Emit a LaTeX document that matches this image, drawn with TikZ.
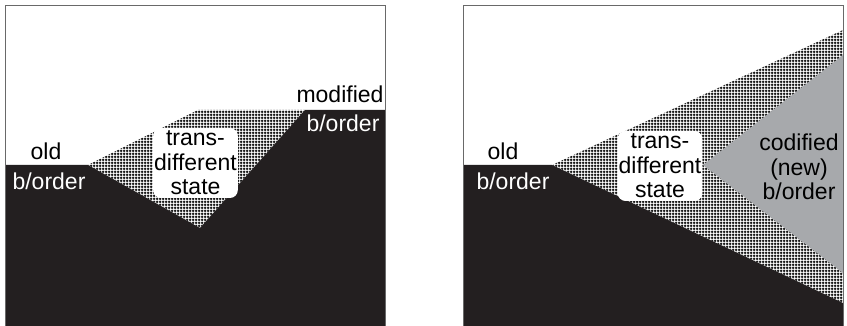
\documentclass[tikz,border=0pt]{standalone}
\usepackage{fontspec}
\setmainfont{Liberation Sans}
\usepackage{tikz}
\usetikzlibrary{patterns}
\usepackage{color}
\definecolor{darkfill}{RGB}{35,31,32}
\definecolor{codgray}{RGB}{167,169,172}
\definecolor{framegray}{RGB}{105,105,105}
\pgfdeclarepatternformonly{finegrid}{\pgfqpoint{0pt}{0pt}}{\pgfqpoint{3pt}{3pt}}{\pgfqpoint{3pt}{3pt}}{
	\pgfsetlinewidth{1.4pt}
	\pgfpathmoveto{\pgfqpoint{0pt}{1.5pt}}\pgfpathlineto{\pgfqpoint{3pt}{1.5pt}}
	\pgfpathmoveto{\pgfqpoint{1.5pt}{0pt}}\pgfpathlineto{\pgfqpoint{1.5pt}{3pt}}
	\pgfusepath{stroke}
}

\begin{document}
\begin{tikzpicture}[x=1pt, y=-1pt, font=\fontsize{23}{24.5}\selectfont,
		lbl/.style={inner sep=0pt, anchor=base},
		statebox/.style={fill=white, rounded corners=8pt, inner sep=1pt, align=center, minimum width=78pt, minimum height=70pt}]
		\useasboundingbox (0,0) rectangle (847,326);
		% left panel
		\fill [pattern=finegrid] (88,165)--(198,110)--(305,110)--(200,228)--cycle;
		\fill [darkfill] (5,165)--(88,165)--(200,228)--(305,110)--(385,110)--(385,330)--(5,330)--cycle;
		\draw [framegray, line width=0.8pt] (5,330)--(5,5)--(385,5)--(385,330);
		\node [statebox] (stateL) at (195.5,163) {trans-\\different\\state};
		\node [lbl] (oldL) at (46,160) {old};
		\node [lbl, white] (borderL) at (49,190) {b/order};
		\node [lbl] (modif) at (340,103) {modified};
		\node [lbl, white] (modborder) at (343,132) {b/order};
		% right panel
		\fill [pattern=finegrid] (552,165)--(843,30)--(843,303)--cycle;
		\fill [codgray] (703,165)--(843,55)--(843,273)--cycle;
		\fill [darkfill] (463,165)--(552,165)--(843,303)--(843,330)--(463,330)--cycle;
		\draw [framegray, line width=0.8pt] (463,330)--(463,5)--(843,5)--(843,330);
		\node [statebox] (stateR) at (660,166) {trans-\\different\\state};
		\node [lbl] (oldR) at (503,160) {old};
		\node [lbl, white] (borderR) at (513,190) {b/order};
		\node [align=center, inner sep=0pt] (codif) at (799,167) {codified\\(new)\\b/order};
\end{tikzpicture}
\end{document}
